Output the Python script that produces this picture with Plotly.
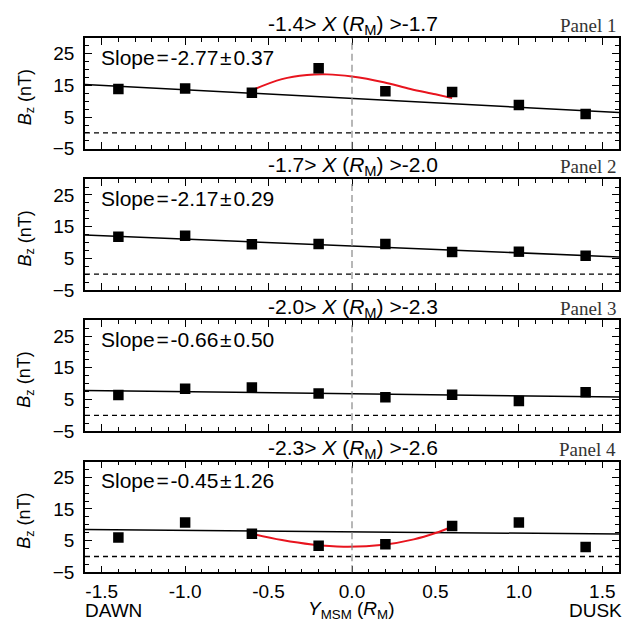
import plotly.graph_objects as go

# ---------------- data ----------------
y_msm = [-1.4, -1.0, -0.6, -0.2, 0.2, 0.6, 1.0, 1.4]

bz_panel1 = [13.9, 14.0, 12.7, 20.4, 13.2, 12.9, 8.8, 6.0]
bz_panel2 = [11.8, 12.1, 9.4, 9.5, 9.5, 7.0, 7.1, 5.8]
bz_panel3 = [6.4, 8.4, 8.8, 6.9, 5.7, 6.5, 4.5, 7.3]
bz_panel4 = [6.0, 10.7, 7.2, 3.4, 3.9, 9.6, 10.7, 3.0]

slopes = [-2.77, -2.17, -0.66, -0.45]
slope_errs = [0.37, 0.29, 0.50, 1.26]
intercepts = [10.9, 8.9, 6.8, 7.8]

panel_titles = ["-1.4> <i>X</i> (<i>R</i><sub>M</sub>) >-1.7",
                "-1.7> <i>X</i> (<i>R</i><sub>M</sub>) >-2.0",
                "-2.0> <i>X</i> (<i>R</i><sub>M</sub>) >-2.3",
                "-2.3> <i>X</i> (<i>R</i><sub>M</sub>) >-2.6"]
panel_names = ["Panel 1", "Panel 2", "Panel 3", "Panel 4"]

# red curves
red1_x = [-0.6, -0.42, -0.27, -0.15, 0.0, 0.19, 0.35, 0.5, 0.6]
red1_y = [13.5, 17.0, 18.3, 18.5, 17.8, 16.0, 13.9, 12.2, 11.0]
red4_x = [-0.6, -0.42, -0.24, -0.05, 0.19, 0.37, 0.5, 0.6]
red4_y = [7.2, 5.2, 3.8, 3.1, 3.7, 5.4, 7.4, 9.4]

x_range = [-1.6, 1.6]
x_tickvals = [-1.5, -1.0, -0.5, 0.0, 0.5, 1.0, 1.5]
x_ticktext = ["-1.5", "-1.0", "-0.5", "0.0", "0.5", "1.0", "1.5"]
y_range = [-5, 30]
y_tickvals = [-5, 5, 15, 25]

all_bz = [bz_panel1, bz_panel2, bz_panel3, bz_panel4]
red_curves = {0: (red1_x, red1_y), 3: (red4_x, red4_y)}

# ---------------- layout geometry (window pixels) ----------------
# the page body's default 8px left margin shifts the figure right; compensate.
OFFX, OFFY = 8, 0
W, H = 634 - OFFX, 627 - OFFY
LEFT, RIGHT = 85, 619
TOP0, STEP, PH = 30.5, 143.7, 112.8


def px(x):
    return (x - OFFX) / W


def py(y):
    return 1 - (y - OFFY) / H


FONT = "Liberation Sans, Arial, Helvetica, sans-serif"
SERIF = "Liberation Serif, Times New Roman, serif"
HS = "\u200a"

fig = go.Figure()
layout = dict(width=W, height=H, margin=dict(l=0, r=0, t=0, b=0),
              paper_bgcolor="white", plot_bgcolor="white", showlegend=False,
              font=dict(family=FONT, size=19, color="black"))
annotations = []
shapes = []

for i in range(4):
    top = TOP0 + STEP * i
    bot = top + PH
    dom_y = [py(bot), py(top)]
    xa = "xaxis" if i == 0 else f"xaxis{i+1}"
    ya = "yaxis" if i == 0 else f"yaxis{i+1}"
    xr = "x" if i == 0 else f"x{i+1}"
    yr = "y" if i == 0 else f"y{i+1}"

    layout[xa] = dict(domain=[px(LEFT), px(RIGHT)], range=x_range, anchor=yr,
                      tickvals=x_tickvals, ticktext=x_ticktext,
                      ticks="inside", ticklen=7, tickwidth=1.2, tickcolor="black",
                      minor=dict(dtick=0.1, tick0=0, ticks="inside", ticklen=4,
                                 tickwidth=1, tickcolor="black"),
                      showline=True, linecolor="black", linewidth=1.5, mirror="allticks",
                      showgrid=False, zeroline=False,
                      showticklabels=(i == 3), tickfont=dict(size=19),
                      ticklabelstandoff=1)
    layout[ya] = dict(domain=dom_y, range=y_range, anchor=xr,
                      tickvals=y_tickvals, ticks="inside", ticklen=7, tickwidth=1.2,
                      tickcolor="black",
                      minor=dict(dtick=2.5, tick0=-5, ticks="inside", ticklen=4,
                                 tickwidth=1, tickcolor="black"),
                      showline=True, linecolor="black", linewidth=1.5, mirror="allticks",
                      showgrid=False, zeroline=False, tickfont=dict(size=19),
                      ticklabelstandoff=5)

    # zero line and center line
    shapes.append(dict(type="line", xref=f"{xr} domain", yref=yr, x0=0, x1=1, y0=0, y1=0,
                       line=dict(color="black", width=1.3, dash="5px,4px")))
    shapes.append(dict(type="line", xref=xr, yref=f"{yr} domain", x0=0, x1=0, y0=0, y1=1,
                       line=dict(color="#888888", width=1.2, dash="7px,4px")))

    # fit line
    fx = x_range
    fy = [intercepts[i] + slopes[i] * v for v in fx]
    fig.add_trace(go.Scatter(x=fx, y=fy, mode="lines", xaxis=xr, yaxis=yr,
                             line=dict(color="black", width=1.5), hoverinfo="skip"))
    # red curve
    if i in red_curves:
        rx, ry = red_curves[i]
        fig.add_trace(go.Scatter(x=rx, y=ry, mode="lines", xaxis=xr, yaxis=yr,
                                 line=dict(color="#e8141e", width=2, shape="spline"),
                                 hoverinfo="skip"))
    # data points
    fig.add_trace(go.Scatter(x=y_msm, y=all_bz[i], mode="markers", xaxis=xr, yaxis=yr,
                             marker=dict(symbol="square", size=10.5, color="black")))

    # annotations
    annotations.append(dict(text=panel_titles[i], xref="paper", yref="paper",
                            x=px(353), y=py(top - 13),
                            showarrow=False, xanchor="center", yanchor="middle",
                            font=dict(size=21, family=FONT)))
    annotations.append(dict(text=panel_names[i], xref="paper", yref="paper",
                            x=px(618), y=py(top - 12.5),
                            showarrow=False, xanchor="right", yanchor="middle",
                            font=dict(size=19, family=SERIF, color="#333333")))
    annotations.append(dict(text=f"Slope{HS}={HS}-{abs(slopes[i]):.2f}{HS}\u00b1{HS}{slope_errs[i]:.2f}",
                            xref="paper", yref="paper",
                            x=px(99), y=py(top + 19.5),
                            showarrow=False, xanchor="left", yanchor="middle",
                            font=dict(size=21, family=FONT)))
    annotations.append(dict(text="<i>B</i><sub>z</sub> (nT)", xref="paper", yref="paper",
                            x=px(26), y=py(top + PH / 2 + 4), textangle=-90,
                            showarrow=False, xanchor="center", yanchor="middle",
                            font=dict(size=18, family=FONT)))

# bottom labels
annotations.append(dict(text="DAWN", xref="paper", yref="paper", x=px(83), y=py(613),
                        showarrow=False, xanchor="left", yanchor="middle",
                        font=dict(size=19, family=FONT)))
annotations.append(dict(text="DUSK", xref="paper", yref="paper", x=px(624), y=py(613),
                        showarrow=False, xanchor="right", yanchor="middle",
                        font=dict(size=19, family=FONT)))
annotations.append(dict(text="<i>Y</i><sub>MSM</sub> (<i>R</i><sub>M</sub>)", xref="paper",
                        yref="paper", x=px(351), y=py(613),
                        showarrow=False, xanchor="center", yanchor="middle",
                        font=dict(size=19, family=FONT)))

layout["annotations"] = annotations
layout["shapes"] = shapes
fig.update_layout(**layout)
fig.write_html("out.html", config={"displayModeBar": False})
